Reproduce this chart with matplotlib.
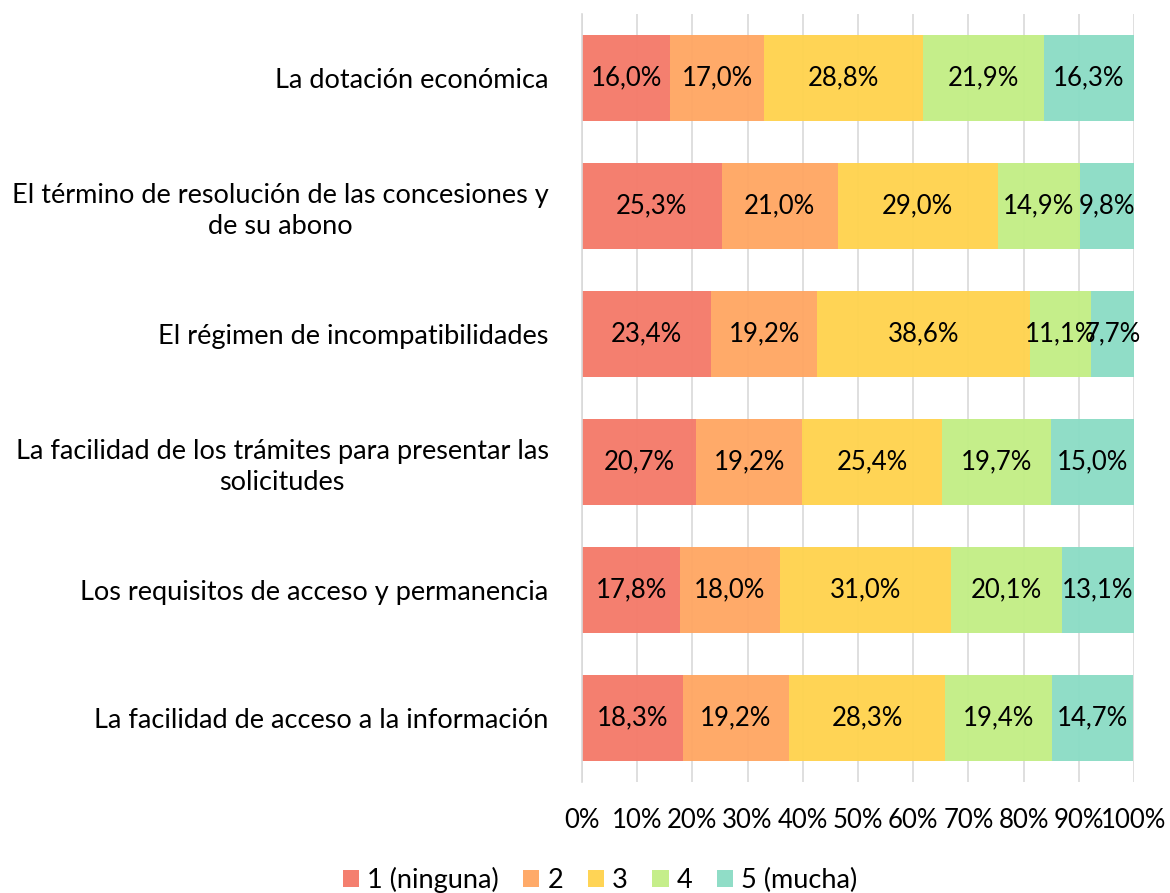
import numpy as np
import matplotlib.pyplot as plt
from matplotlib.ticker import FuncFormatter

plt.rcParams['font.family'] = ['Lato', 'DejaVu Sans']

categories = [
    "La dotación económica",
    "El término de resolución de las concesiones y\nde su abono",
    "El régimen de incompatibilidades",
    "La facilidad de los trámites para presentar las\nsolicitudes",
    "Los requisitos de acceso y permanencia",
    "La facilidad de acceso a la información",
]
series_names = ["1 (ninguna)", "2", "3", "4", "5 (mucha)"]
s1 = [16.0, 25.3, 23.4, 20.7, 17.8, 18.3]
s2 = [17.0, 21.0, 19.2, 19.2, 18.0, 19.2]
s3 = [28.8, 29.0, 38.6, 25.4, 31.0, 28.3]
s4 = [21.9, 14.9, 11.1, 19.7, 20.1, 19.4]
s5 = [16.3, 9.8, 7.7, 15.0, 13.1, 14.7]
colors = ["#F47B6A", "#FFA764", "#FFD34F", "#C3EE86", "#8CDCC6"]

fs = 19.5
fs_small = 18.5

fig = plt.figure(figsize=(11.7, 8.93), dpi=100)
ax = fig.add_axes([582 / 1170, 1 - 782 / 893, 552 / 1170, 768 / 893])

y = np.arange(len(categories))[::-1]
left = np.zeros(len(categories))
for name, vals, c in zip(series_names, [s1, s2, s3, s4, s5], colors):
    vals = np.array(vals)
    ax.barh(y, vals, left=left, height=0.67, color=c, label=name, alpha=0.97, zorder=2)
    for yi, l, v in zip(y, left, vals):
        ax.text(l + v / 2, yi, f"{v:.1f}%".replace(".", ","), ha="center", va="center",
                fontsize=fs_small, color="black", zorder=3)
    left += vals

ax.set_xlim(0, 100)
ax.set_ylim(-0.5, len(categories) - 0.5)
ax.set_xticks(np.arange(0, 101, 10))
ax.xaxis.set_major_formatter(FuncFormatter(lambda v, p: f"{v:.0f}%"))
ax.grid(axis="x", color="#D9D9D9", linewidth=1.2, zorder=1)
ax.set_axisbelow(True)
for s in ["top", "right", "bottom"]:
    ax.spines[s].set_visible(False)
ax.spines["left"].set_color("#D9D9D9")
ax.spines["left"].set_linewidth(1.2)
ax.tick_params(axis="x", length=0, pad=19, labelsize=fs_small)
ax.tick_params(axis="y", length=0, pad=24, labelsize=fs)
ax.set_yticks(y)
ax.set_yticklabels(categories, ha="right", multialignment="center", linespacing=1.3)

handles, labels = ax.get_legend_handles_labels()
fig.legend(handles, labels, loc="center", bbox_to_anchor=(600 / 1170, 1 - 880 / 893),
           ncol=5, frameon=False, fontsize=fs, handlelength=0.6, handleheight=0.6,
           handletextpad=0.3, columnspacing=0.9)

fig.savefig("out.png", dpi=100)
